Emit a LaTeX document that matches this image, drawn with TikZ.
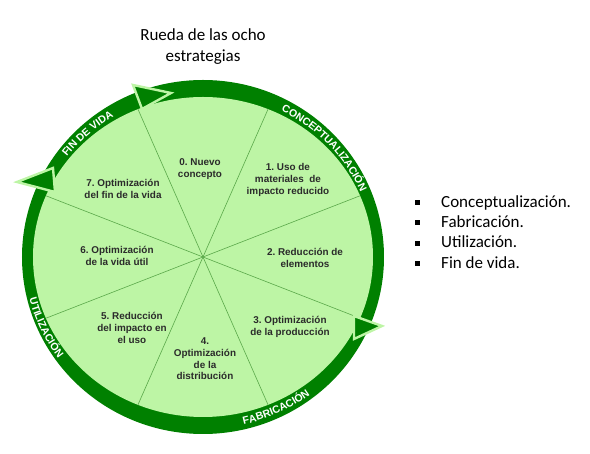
\documentclass[tikz,border=0pt]{standalone}
\usepackage{fontspec}
\setmainfont{Carlito}
\newfontfamily\wheelsans{Liberation Sans}
\usetikzlibrary{positioning,calc,decorations.text}
\definecolor{wheeldark}{HTML}{008000}
\definecolor{wheellight}{HTML}{BDF5A5}
\definecolor{wheelspoke}{HTML}{5AA84A}
\definecolor{wheeltext}{HTML}{2B2B2B}
\frenchspacing

\begin{document}
\begin{tikzpicture}[x=1pt,y=1pt,
  sector/.style={font=\wheelsans\bfseries\fontsize{9.9}{11.6}\selectfont,text=wheeltext,align=center,inner sep=0pt},
  phase/.style={decorate,decoration={text along path,text align=center,
    text={|\wheelsans\bfseries\fontsize{10.5}{10.5}\selectfont\color{white}|#1}}},
  phasehead/.style={draw=wheellight,fill=wheeldark,line width=2.4pt,line join=miter},
  heading/.style={font=\fontsize{17}{21}\selectfont,anchor=base,inner sep=0pt},
  listitem/.style={font=\fontsize{17}{20}\selectfont,anchor=base west,inner sep=0pt},
  itemmark/.style={fill=black,minimum size=5pt,inner sep=0pt}
]
\useasboundingbox (-203,-197) rectangle (387,257);
\coordinate (hub) at (0,0);

\fill[wheeldark] (hub) ellipse[x radius=181,y radius=177];
\fill[wheellight] (hub) ellipse[x radius=170,y radius=160];
\foreach \a in {22.5,67.5,...,337.5}
  \draw[wheelspoke,line width=0.6pt] (hub) -- (\a:170 and 160);

\filldraw[phasehead] (-70,172) -- (-32,164) -- (-61,148) -- cycle;
\filldraw[phasehead] (-186,75) -- (-150,89) -- (-148,65) -- cycle;
\filldraw[phasehead] (151,-59) -- (179,-69) -- (151,-82) -- cycle;

\path[phase=CONCEPTUALIZACIÓN] (68:171.5 and 164.5) arc[start angle=68,end angle=18,x radius=171.5,y radius=164.5];
\path[phase={FIN DE VIDA}] (150:171.5 and 164.5) arc[start angle=150,end angle=114,x radius=171.5,y radius=164.5];
\path[phase=FABRICACIÓN] (-84:179 and 172) arc[start angle=-84,end angle=-46,x radius=179,y radius=172];
\path[phase=UTILIZACIÓN] (186:179 and 172) arc[start angle=186,end angle=224,x radius=179,y radius=172];

\node[sector] (s0) at (-3,88) {0. Nuevo\\concepto};
\node[sector] (s1) at (85,77) {1. Uso de\\materiales~ de\\impacto reducido};
\node[sector] (s2) at (102,-1) {2. Reducción de\\elementos};
\node[sector] (s3) at (87,-70) {3. Optimización\\de la producción};
\node[sector] (s4) at (2,-102) {4.\\Optimización\\de la\\distribución};
\node[sector] (s5) at (-71,-71) {5. Reducción\\del impacto en\\el uso};
\node[sector] (s6) at (-86,1) {6. Optimización\\de la vida útil};
\node[sector] (s7) at (-80,68) {7. Optimización\\del fin de la vida};

\node[heading] (title1) at (0,216) {Rueda de las ocho};
\node[heading] (title2) at (0,195.5) {estrategias};

\foreach \t [count=\i] in {Conceptualización.,Fabricación.,Utilización.,Fin de vida.} {
  \node[listitem] (li\i) at (238,70-20.3*\i) {\t};
  \node[itemmark] (mark\i) at (214.5,74.6-20.3*\i) {};
}
\end{tikzpicture}
\end{document}
